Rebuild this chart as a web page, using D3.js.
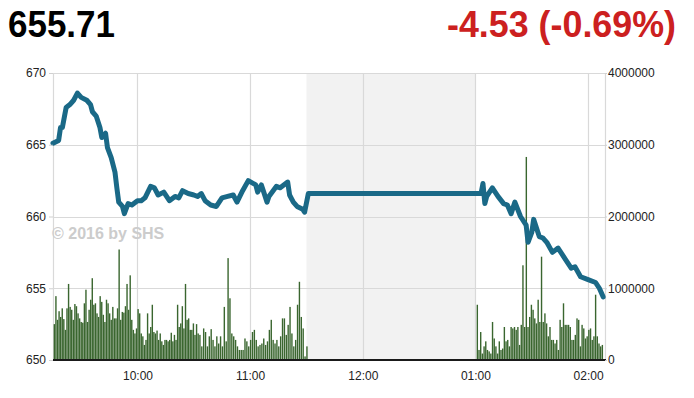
<!DOCTYPE html>
<html><head><meta charset="utf-8">
<script src="https://cdn.jsdelivr.net/npm/d3@7"></script>
<style>body{margin:0;background:#fff}svg{display:block}text{font-family:"Liberation Sans",Arial,Helvetica,sans-serif}</style>
</head><body><svg id="c" width="694" height="398"></svg>
<script>
// ---------- data ----------
const lastPrice = "655.71";
const changeText = "-4.53 (-0.69%)";
const watermark = "\u00a9 2016 by SHS";
const priceTicks = [650, 655, 660, 665, 670];
const volumeTicks = [0, 1000000, 2000000, 3000000, 4000000];
const timeTicks = ["10:00", "11:00", "12:00", "13:00", "14:00"];
const sessionStart = "09:15:00", sessionEnd = "14:09:00";
const lunchStart = "11:30:00", lunchEnd = "13:00:00";

const priceTimes = ["09:15","09:18","09:19","09:20","09:22","09:24","09:26","09:28","09:30","09:33","09:35","09:36","09:38","09:40","09:41","09:43","09:44","09:46","09:48","09:49","09:50","09:52","09:53","09:55","09:57","10:00","10:02","10:04","10:07","10:09","10:11","10:14","10:17","10:20","10:22","10:24","10:27","10:30","10:32","10:34","10:36","10:39","10:42","10:45","10:48","10:51","10:53","10:56","10:59","11:03","11:04","11:06","11:09","11:10","11:14","11:16","11:20","11:21","11:23","11:25","11:28","11:29","11:31","13:03","13:04","13:05","13:06","13:09","13:12","13:15","13:17","13:19","13:21","13:24","13:27","13:28","13:30","13:31","13:34","13:36","13:38","13:41","13:44","13:48","13:51","13:53","13:56","14:00","14:04","14:06","14:08"];
const priceValues = [665.1,665.3,666.2,666.2,667.6,667.8,668.1,668.6,668.3,668.1,667.8,667.3,667.0,666.2,665.5,665.8,664.8,664.1,663.1,662.0,661.0,660.7,660.2,660.9,660.8,661.1,661.1,661.3,662.1,662.0,661.5,661.7,661.1,661.4,661.3,661.8,661.6,661.5,661.4,661.6,661.1,660.8,660.7,661.3,661.4,661.5,661.0,661.8,662.5,662.2,661.7,662.2,661.0,661.4,662.1,662.0,662.4,661.5,661.0,660.7,660.5,660.3,661.6,661.6,662.3,660.9,661.4,662.0,661.4,660.9,660.8,660.2,661.0,660.0,659.4,658.2,658.9,659.8,658.6,658.5,658.2,657.5,657.8,657.0,656.4,656.5,655.8,655.6,655.4,655.0,654.4];

// volume in millions of shares; each block: first bar time and seconds between bars
const volumeEarlyStart = "09:15:43", volumeEarlyStep = 50.5;
const volumeEarly = [0.50,0.89,0.56,0.68,0.60,0.72,0.57,0.42,0.72,1.06,0.74,0.70,0.56,0.78,0.75,0.65,0.58,0.53,0.52,0.79,0.98,0.53,0.70,0.84,1.14,0.77,0.79,0.65,0.60,0.89,0.81,0.63,0.53,0.84,0.79,0.65,0.56,0.74,0.58,0.58,0.72,1.54,0.56,0.67,0.66,0.75,1.06,0.70,1.18,0.56,0.42,0.37,0.44,0.71,0.65,0.37,0.33,0.21,0.28,0.65,0.37,0.46,0.77,0.39,0.37,0.41,0.28,0.37,0.26,0.21,0.28,0.28,0.26,0.28,0.38,0.26,0.35,0.28,0.77,0.46,0.51,0.75,0.44,1.06,0.56,0.58,0.42,0.42,0.51,0.35,0.50,0.37];
const volumeLateStart = "10:33:15", volumeLateStep = 60;
const volumeLate = [0.35,0.19,0.44,0.39,0.19,0.33,0.43,0.28,0.19,0.33,0.23,0.33,0.19,0.74,0.26,1.42,0.86,0.37,0.33,0.28,0.19,0.14,0.14,0.14,0.30,0.26,0.19,0.28,0.39,0.42,0.28,0.19,0.21,0.23,0.30,0.21,0.26,0.42,0.56,0.28,0.23,0.28,0.19,0.33,0.58,0.58,0.35,0.49,0.74,0.37,0.19,0.28,0.77,1.09,0.60,0.44,0.05,0.19];
const volumeAfternoonStart = "13:01:00", volumeAfternoonStep = 54;
const volumeAfternoon = [0.77,0.14,0.39,0.09,0.19,0.26,0.14,0.12,0.09,0.53,0.30,0.19,0.09,0.26,
  0.14,0.16,0.46,0.26,0.28,0.19,0.46,0.44,0.46,0.42,0.46,0.21,0.49,1.32,0.46,2.83,0.46,0.60,0.77,0.70,0.58,0.51,0.84,0.53,1.44,0.53,0.65,0.51,0.33,0.46,0.28,0.28,0.23,0.28,0.14,0.56,0.46,0.79,0.49,0.49,0.49,0.46,0.28,0.28,0.35,0.58,0.56,0.19,0.49,0.44,0.30,0.33,0.42,0.44,0.28,0.33,0.91,0.33,0.23,0.19,0.21];

// ---------- chart ----------
const W = 694, H = 398;
const M = {left: 53, right: 89, top: 73, bottom: 38};
const svg = d3.select("#c");
const parse = d3.timeParse("%H:%M:%S");
const pt = s => parse(s.length === 5 ? s + ":00" : s);

const x = d3.scaleTime().domain([pt(sessionStart), pt(sessionEnd)]).range([M.left, W - M.right]);
const y = d3.scaleLinear().domain([650, 670]).range([H - M.bottom, M.top]);
const yv = d3.scaleLinear().domain([0, 4000000]).range([H - M.bottom, M.top]);

const x0 = M.left, x1 = W - M.right, yTop = M.top, yBot = H - M.bottom;

// lunch shading
svg.append("rect").attr("x", x(pt(lunchStart))).attr("y", yTop)
  .attr("width", x(pt(lunchEnd)) - x(pt(lunchStart))).attr("height", yBot - yTop)
  .attr("fill", "#f2f2f2");

// grid
const grid = svg.append("g").attr("stroke", "#d9d9d9").attr("stroke-width", 1.2);
priceTicks.forEach(v => grid.append("line").attr("x1", x0).attr("x2", x1)
  .attr("y1", Math.round(y(v)) + 0.5).attr("y2", Math.round(y(v)) + 0.5));
timeTicks.forEach(t => grid.append("line").attr("x1", Math.round(x(pt(t))) + 0.5).attr("x2", Math.round(x(pt(t))) + 0.5)
  .attr("y1", yTop).attr("y2", yBot));
grid.append("line").attr("x1", x0 + 0.5).attr("x2", x0 + 0.5).attr("y1", yTop).attr("y2", yBot);
grid.append("line").attr("x1", x1 + 0.5).attr("x2", x1 + 0.5).attr("y1", yTop).attr("y2", yBot);

// watermark
svg.append("text").attr("x", 52).attr("y", 239).attr("font-size", 16).attr("font-weight", "bold")
  .attr("fill", "#cccccc").text(watermark);

// volume bars
const bars = [];
[[volumeEarly, volumeEarlyStart, volumeEarlyStep],
 [volumeLate, volumeLateStart, volumeLateStep],
 [volumeAfternoon, volumeAfternoonStart, volumeAfternoonStep]].forEach(([vals, start, step]) => {
  vals.forEach((v, i) => bars.push({t: new Date(pt(start).getTime() + i * step * 1000), v: v * 1e6}));
});
svg.append("g").selectAll("rect").data(bars).join("rect")
  .attr("x", d => x(d.t) - 0.7).attr("width", 1.4)
  .attr("y", d => yv(d.v)).attr("height", d => yBot - yv(d.v))
  .attr("fill", "#3a662f");

// baseline
svg.append("line").attr("x1", x0).attr("x2", x1 + 1).attr("y1", yBot).attr("y2", yBot)
  .attr("stroke", "#1a1a1a").attr("stroke-width", 2);

// price line
const pts = priceTimes.map((t, i) => ({t: pt(t), v: priceValues[i]}));
svg.append("path").datum(pts)
  .attr("d", d3.line().x(d => x(d.t)).y(d => y(d.v)))
  .attr("fill", "none").attr("stroke", "#1a6987").attr("stroke-width", 5)
  .attr("stroke-linejoin", "round").attr("stroke-linecap", "round");

// axes
const axL = svg.append("g").attr("transform", `translate(${x0},0)`)
  .call(d3.axisLeft(y).tickValues(priceTicks).tickSize(4).tickPadding(3).tickFormat(d3.format("d")));
const axR = svg.append("g").attr("transform", `translate(${x1},0)`)
  .call(d3.axisRight(yv).tickValues(volumeTicks).tickSize(2).tickPadding(1).tickFormat(d3.format("d")));
const axB = svg.append("g").attr("transform", `translate(0,${yBot})`)
  .call(d3.axisBottom(x).tickValues(timeTicks.map(pt)).tickSize(0).tickPadding(11).tickFormat(d3.timeFormat("%I:%M")));
[axL, axR, axB].forEach(a => {
  a.select(".domain").remove();
  a.selectAll(".tick line").attr("stroke", "#d0d0d0");
  a.selectAll("text").attr("font-size", 12).attr("fill", "#222")
    .attr("font-family", "'Liberation Sans', Arial, sans-serif");
});

// header
svg.append("text").attr("x", 8).attr("y", 37).attr("font-size", 36).attr("font-weight", "bold")
  .attr("fill", "#000").attr("textLength", 107).attr("lengthAdjust", "spacingAndGlyphs").text(lastPrice);
svg.append("text").attr("x", 676).attr("y", 37).attr("font-size", 36).attr("font-weight", "bold")
  .attr("text-anchor", "end").attr("fill", "#cc2020").attr("textLength", 229).attr("lengthAdjust", "spacingAndGlyphs").text(changeText);
</script></body></html>
